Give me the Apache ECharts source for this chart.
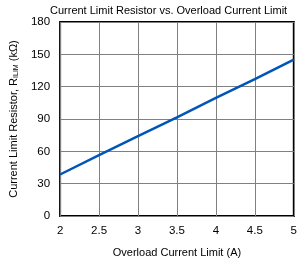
<!DOCTYPE html>
<html><head><meta charset="utf-8">
<script src="https://cdn.jsdelivr.net/npm/echarts@6/dist/echarts.min.js"></script>
<style>html,body{margin:0;padding:0;background:#fff}#c{width:300px;height:263px}</style>
</head><body><div id="c"></div>
<script>
const currents = [2, 2.5, 3, 3.5, 4, 4.5, 5];
const resistance = [38.5, 56.5, 74, 91.5, 109.5, 127, 145];
const xTicks = [2, 2.5, 3, 3.5, 4, 4.5, 5];
const yTicks = [0, 30, 60, 90, 120, 150, 180];
const font = 'Liberation Sans, Arial, sans-serif';
const chart = echarts.init(document.getElementById('c'), null, {renderer:'canvas'});
chart.setOption({
  animation:false,
  title:{text:'Current Limit Resistor vs. Overload Current Limit', left:50, top:5, padding:0,
    textStyle:{fontFamily:font, fontSize:11, fontWeight:'normal', color:'#000'}},
  grid:{left:47, right:6, top:22, bottom:44, show:true, borderColor:'#000', borderWidth:2},
  xAxis:{type:'value', min:2, max:5, interval:0.5,
    axisLine:{show:false}, axisTick:{show:false},
    splitLine:{lineStyle:{color:'#808080', width:1}},
    axisLabel:{fontFamily:font, fontSize:11.5, color:'#000', margin:9, formatter:v=>String(v)},
    name:'Overload Current Limit (A)', nameLocation:'middle', nameGap:31,
    nameTextStyle:{fontFamily:font, fontSize:11, color:'#000'}},
  yAxis:{type:'value', min:0, max:180, interval:30,
    axisLine:{show:false}, axisTick:{show:false},
    splitLine:{lineStyle:{color:'#808080', width:1}},
    axisLabel:{fontFamily:font, fontSize:11.5, color:'#000', margin:10},
    name:'{a|Current Limit Resistor, R}{s|ILIM}{a| (kΩ)}', nameLocation:'middle', nameGap:32,
    nameTextStyle:{fontFamily:font, fontSize:11, color:'#000',
      rich:{a:{fontFamily:font, fontSize:11, color:'#000'}, s:{fontFamily:font, fontSize:7, color:'#000', verticalAlign:'bottom', padding:[6,0,0,0]}}}},
  series:[{type:'line', data:currents.map((x,i)=>[x,resistance[i]]), showSymbol:false, smooth:false,
    lineStyle:{color:'#0055b8', width:2.5}}]
});
</script></body></html>
